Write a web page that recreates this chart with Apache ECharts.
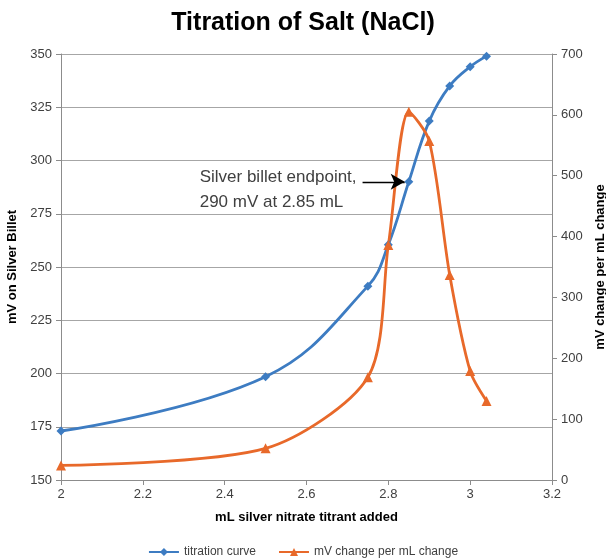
<!DOCTYPE html>
<html><head><meta charset="utf-8">
<script src="https://cdn.jsdelivr.net/npm/echarts@6/dist/echarts.min.js"></script>
<style>html,body{margin:0;padding:0;background:#fff}#c{width:606px;height:559px}</style>
</head><body><div id="c"></div>
<script>
const xValues = [2.0, 2.5, 2.75, 2.8, 2.85, 2.9, 2.95, 3.0, 3.04];
const titration = [173, 198.5, 241, 260.5, 290, 318.5, 335, 344, 349];
const changePerMl = [24, 52, 169, 386, 605, 557, 337, 179, 130];
const seriesNames = ['titration curve', 'mV change per mL change'];
const annotation = ['Silver billet endpoint,', '290 mV at 2.85 mL'];
const endpoint = [2.85, 290];
const arrowStartX = 2.737;

const narrow = '"Liberation Sans Narrow","Liberation Sans",Arial,sans-serif';
const sans = '"Liberation Sans",Arial,sans-serif';
const blue = '#3d7cc2', orange = '#e8692a';
const axisColor = '#8c8c8c';

const chart = echarts.init(document.getElementById('c'));
chart.setOption({
  animation: false,
  title: { text: 'Titration of Salt (NaCl)', left: 'center', top: 6,
    textStyle: { fontFamily: sans, fontSize: 25, fontWeight: 'bold', color: '#000' } },
  grid: { left: 61, right: 54, top: 54, bottom: 79, containLabel: false, outerBoundsMode: 'none' },
  legend: { bottom: -4, left: 'center', itemGap: 22, itemWidth: 30, itemHeight: 10,
    textStyle: { fontFamily: narrow, fontSize: 12, color: '#404040' },
    data: [seriesNames[0], seriesNames[1]] },
  xAxis: { type: 'value', min: 2, max: 3.2, interval: 0.2,
    name: 'mL silver nitrate titrant added', nameLocation: 'middle', nameGap: 31,
    nameTextStyle: { fontFamily: sans, fontSize: 13, fontWeight: 'bold', color: '#000' },
    axisLine: { show: true, lineStyle: { color: axisColor } },
    axisTick: { show: true, length: 5, lineStyle: { color: axisColor } },
    axisLabel: { fontFamily: narrow, fontSize: 13, color: '#404040', margin: 8,
      formatter: v => String(Math.round(v * 10) / 10) },
    splitLine: { show: false } },
  yAxis: [
    { type: 'value', min: 150, max: 350, interval: 25,
      name: 'mV on Silver Billet', nameLocation: 'middle', nameGap: 36, nameRotate: 90,
      nameTextStyle: { fontFamily: sans, fontSize: 13, fontWeight: 'bold', color: '#000' },
      axisLine: { show: true, lineStyle: { color: axisColor } },
      axisTick: { show: true, length: 5, lineStyle: { color: axisColor } },
      axisLabel: { fontFamily: narrow, fontSize: 13, color: '#404040', margin: 9 },
      splitLine: { show: true, lineStyle: { color: '#a6a6a6', width: 1 } } },
    { type: 'value', min: 0, max: 700, interval: 100, position: 'right',
      name: 'mV change per mL change', nameLocation: 'middle', nameGap: 37, nameRotate: 90,
      nameTextStyle: { fontFamily: sans, fontSize: 13, fontWeight: 'bold', color: '#000' },
      axisLine: { show: true, lineStyle: { color: axisColor } },
      axisTick: { show: true, length: 5, lineStyle: { color: axisColor } },
      axisLabel: { fontFamily: narrow, fontSize: 13, color: '#404040', margin: 9 },
      splitLine: { show: false } }
  ],
  series: [
    { name: seriesNames[0], type: 'line', yAxisIndex: 0, smooth: 0.4,
      data: xValues.map((x, i) => [x, titration[i]]),
      symbol: 'diamond', symbolSize: 9, color: blue,
      lineStyle: { width: 2.8, color: blue }, itemStyle: { color: blue },
      markLine: { silent: true, symbol: ['none', 'arrow'], symbolSize: [12, 14],
        lineStyle: { color: '#000', width: 1.3, type: 'solid' }, label: { show: false },
        data: [[{ coord: [arrowStartX, endpoint[1]] }, { coord: [endpoint[0] - 0.01, endpoint[1]] }]] } },
    { name: seriesNames[1], type: 'line', yAxisIndex: 1, smooth: 0.28, z: 3,
      data: xValues.map((x, i) => [x, changePerMl[i]]),
      symbol: 'triangle', symbolSize: 10, color: orange,
      lineStyle: { width: 2.8, color: orange }, itemStyle: { color: orange } }
  ]
});
const p = chart.convertToPixel({ gridIndex: 0 }, [arrowStartX, 0]);
const py = chart.convertToPixel({ yAxisIndex: 0 }, endpoint[1]);
chart.setOption({ graphic: [{ type: 'text', right: 606 - p[0] + 6, top: py - 17,
  style: { text: annotation.join('\n'), fontFamily: narrow, fontSize: 17, lineHeight: 25,
    fill: '#404040', textAlign: 'left' } }] });
</script></body></html>
